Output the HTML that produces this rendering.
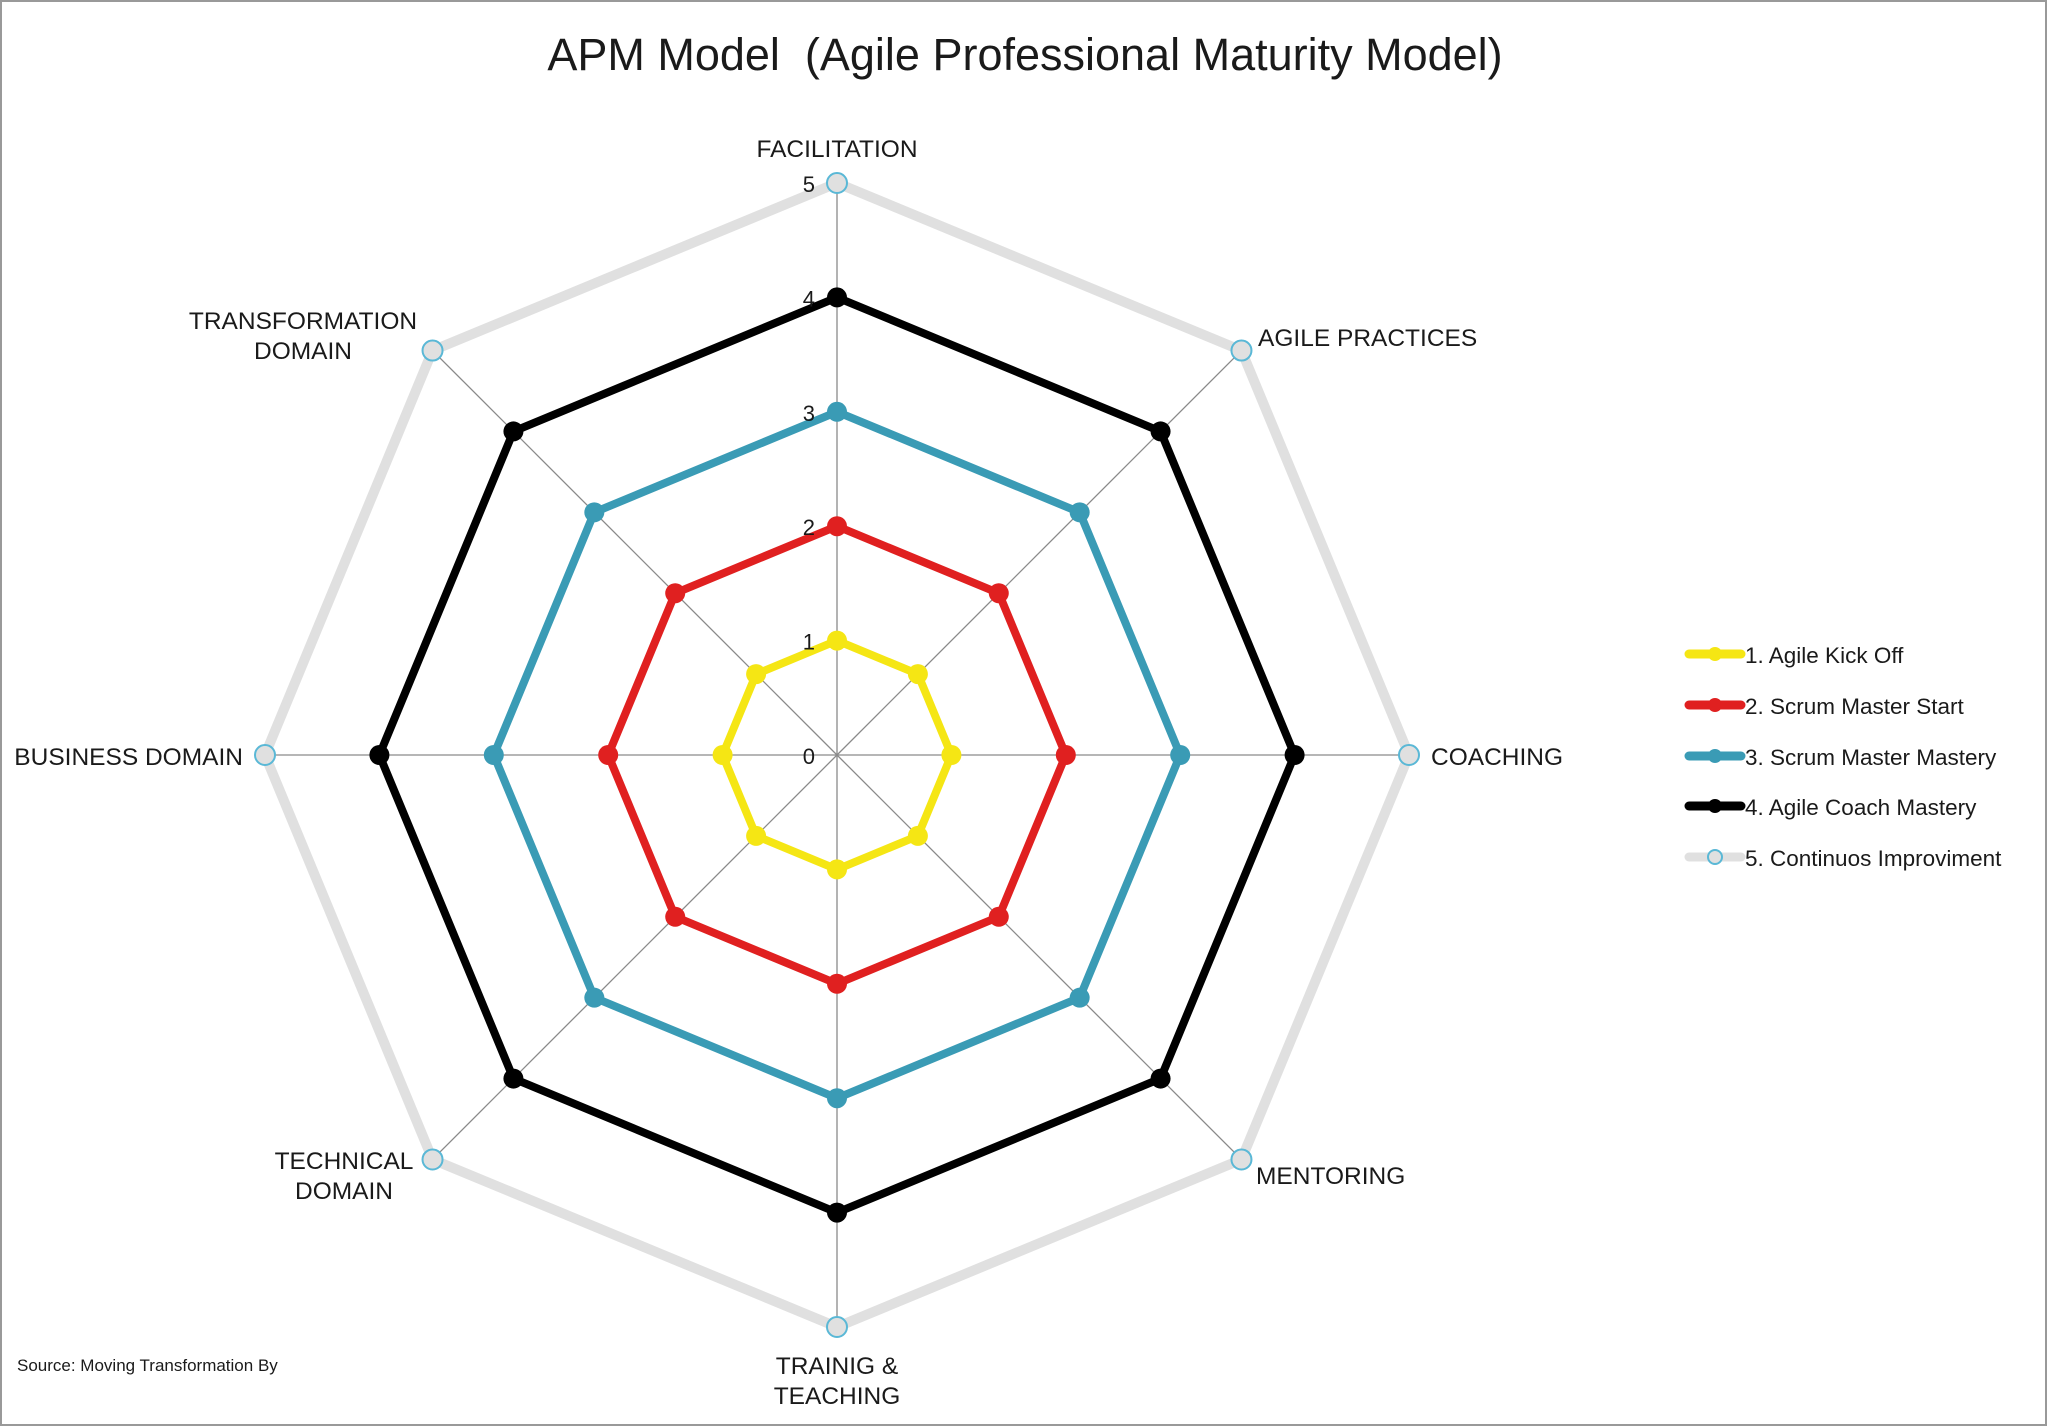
<!DOCTYPE html>
<html><head><meta charset="utf-8"><style>
html,body{margin:0;padding:0;background:#fff;}
svg{display:block;}
text{font-family:"Liberation Sans",sans-serif;fill:#1a1a1a;}
</style></head><body>
<svg id="s" width="2048" height="1427" viewBox="0 0 2048 1427" xmlns="http://www.w3.org/2000/svg">
<rect x="1" y="1" width="2045" height="1424" fill="#fff" stroke="#999" stroke-width="2"/>
<text x="1025" y="70" font-size="45" text-anchor="middle">APM Model&#160; (Agile Professional Maturity Model)</text>
<g id="g"></g>
<g font-size="24.5">
<text x="837" y="157" text-anchor="middle">FACILITATION</text>
<text x="1258" y="346">AGILE PRACTICES</text>
<text x="1431" y="765">COACHING</text>
<text x="1256" y="1184">MENTORING</text>
<text x="837" y="1374" text-anchor="middle">TRAINIG &amp;</text>
<text x="837" y="1404" text-anchor="middle">TEACHING</text>
<text x="344" y="1169" text-anchor="middle">TECHNICAL</text>
<text x="344" y="1199" text-anchor="middle">DOMAIN</text>
<text x="243" y="765" text-anchor="end">BUSINESS DOMAIN</text>
<text x="303" y="329" text-anchor="middle">TRANSFORMATION</text>
<text x="303" y="359" text-anchor="middle">DOMAIN</text>
</g>
<text x="17" y="1371" font-size="17" fill="#333">Source: Moving Transformation By</text>
<g font-size="22.5">
<line x1="1689" y1="654" x2="1741" y2="654" stroke="#f5e614" stroke-width="9" stroke-linecap="round"/><circle cx="1715" cy="654" r="7" fill="#f5e614"/><text x="1745" y="663">1. Agile Kick Off</text>
<line x1="1689" y1="705" x2="1741" y2="705" stroke="#e02020" stroke-width="9" stroke-linecap="round"/><circle cx="1715" cy="705" r="7" fill="#e02020"/><text x="1745" y="714">2. Scrum Master Start</text>
<line x1="1689" y1="756" x2="1741" y2="756" stroke="#3a9bb5" stroke-width="9" stroke-linecap="round"/><circle cx="1715" cy="756" r="7" fill="#3a9bb5"/><text x="1745" y="765">3. Scrum Master Mastery</text>
<line x1="1689" y1="806" x2="1741" y2="806" stroke="#000" stroke-width="9" stroke-linecap="round"/><circle cx="1715" cy="806" r="7" fill="#000"/><text x="1745" y="815">4. Agile Coach Mastery</text>
<line x1="1689" y1="857" x2="1741" y2="857" stroke="#e0e0e0" stroke-width="9" stroke-linecap="round"/><circle cx="1715" cy="857" r="7" fill="#e0e0e0" stroke="#5ab8d6" stroke-width="2"/><text x="1745" y="866">5. Continuos Improviment</text>
</g>
</svg>
<script>
var cx=837,cy=755,u=114.4,g=document.getElementById('g'),h='';
function pt(r,i){var a=-Math.PI/2+i*Math.PI/4;return [cx+r*u*Math.cos(a),cy+r*u*Math.sin(a)];}
for(var i=0;i<8;i++){var p=pt(5,i);h+='<line x1="'+cx+'" y1="'+cy+'" x2="'+p[0]+'" y2="'+p[1]+'" stroke="#8a8a8a" stroke-width="1.3"/>';}
var S=[[5,'#e0e0e0',10],[4,'#000',8],[3,'#3a9bb5',8],[2,'#e02020',8],[1,'#f5e614',8]];
S.forEach(function(s){var pts=[];for(var i=0;i<8;i++)pts.push(pt(s[0],i).join(','));
h+='<polygon points="'+pts.join(' ')+'" fill="none" stroke="'+s[1]+'" stroke-width="'+s[2]+'" stroke-linejoin="round"/>';
for(var i=0;i<8;i++){var p=pt(s[0],i);
if(s[0]==5)h+='<circle cx="'+p[0]+'" cy="'+p[1]+'" r="10" fill="#e0e0e0" stroke="#5ab8d6" stroke-width="2"/>';
else h+='<circle cx="'+p[0]+'" cy="'+p[1]+'" r="10" fill="'+s[1]+'"/>';}});
for(var k=0;k<=5;k++){h+='<text x="815" y="'+(cy-k*u+9)+'" font-size="22" text-anchor="end">'+k+'</text>';}
g.innerHTML=h;
</script>
</body></html>
